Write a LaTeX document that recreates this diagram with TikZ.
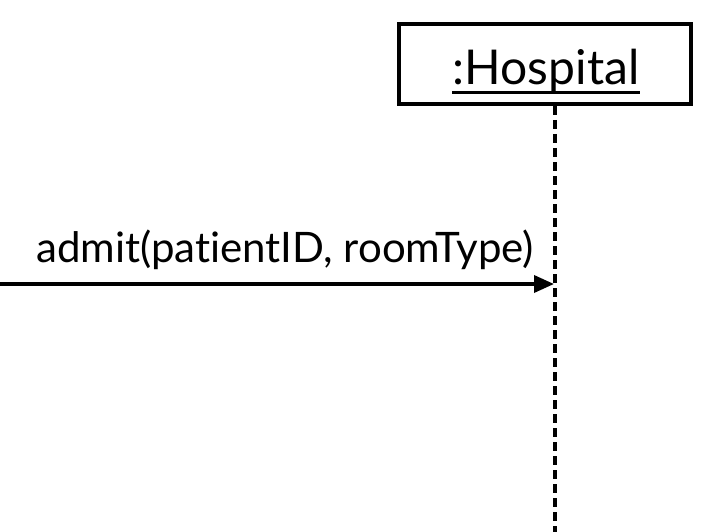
\documentclass[tikz,border=0pt]{standalone}
\usepackage{fontspec}
\setmainfont[Ligatures={NoCommon}]{Lato}
\usetikzlibrary{arrows.meta}
\begin{document}
\begin{tikzpicture}[x=1pt,y=-1pt,
  objbox/.style={draw=black,line width=4pt,minimum width=292pt,minimum height=80pt,inner sep=0pt},
  lifeline/.style={line width=4pt,dash pattern=on 9pt off 5pt},
  msg/.style={line width=3.6pt,-{Triangle[length=20pt,width=17pt]}},
  msglabel/.style={font=\fontsize{42}{46}\selectfont,anchor=base east,inner sep=0pt}]
\useasboundingbox (0,0) rectangle (728,532);
\node[objbox] (hosp) at (545,64) {};
\node[font=\fontsize{48}{52}\selectfont,inner sep=0pt,anchor=base] (htext) at (546,85) {:Hospital};
\draw[line width=3pt] (htext.base west) ++(0,8) coordinate (ul1) -- (htext.base east |- ul1);
\coordinate (lend) at (555,532);
\draw[lifeline] (555,106) -- (lend);
\coordinate (src) at (0,284);
\coordinate (tgt) at (554,284);
\draw[msg] (src) -- (tgt);
\node[msglabel] (lbl) at (534,262) {admit(patientID, roomType)};
\end{tikzpicture}
\end{document}
